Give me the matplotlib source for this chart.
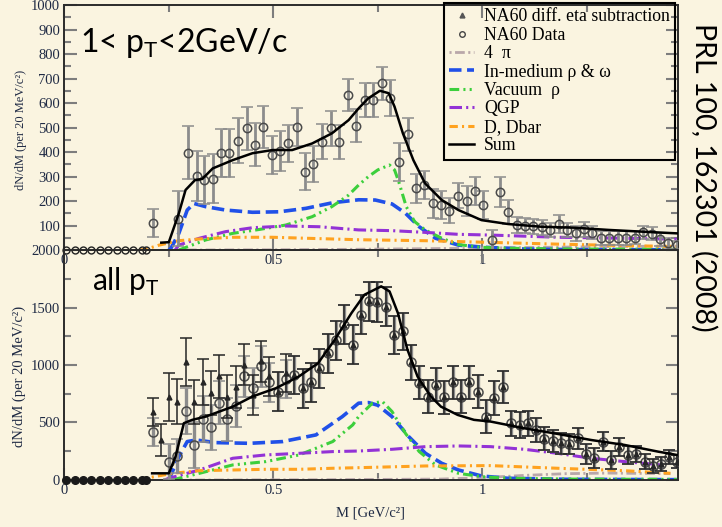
import matplotlib
matplotlib.use("Agg")
import matplotlib.pyplot as plt
from matplotlib.ticker import MultipleLocator, FuncFormatter
from matplotlib.lines import Line2D

plt.rcParams['font.family'] = ['Liberation Serif', 'DejaVu Serif']
plt.rcParams['mathtext.fontset'] = 'dejavusans'
plt.rcParams['lines.scale_dashes'] = False

BG = '#faf4e0'
TICKLAB = '#1f2a44'
C_BLUE = '#2050e8'
C_GREEN = '#3ccf3c'
C_PURPLE = '#9332d6'
C_ORANGE = '#ffa21f'
C_4PI = '#b9a7aa'

# ---------------- 1 < pT < 2 GeV/c ----------------
zero_m = [0.005, 0.025, 0.045, 0.065, 0.085, 0.105, 0.125, 0.145, 0.165, 0.185, 0.195]

hi_m = [0.213, 0.273, 0.295, 0.317, 0.335, 0.355, 0.375, 0.395, 0.416, 0.436, 0.456,
        0.476, 0.496, 0.516, 0.536, 0.556, 0.576, 0.596, 0.617, 0.637, 0.658, 0.678,
        0.698, 0.719, 0.739, 0.759, 0.779, 0.801, 0.822, 0.841, 0.861, 0.881, 0.901,
        0.921, 0.941, 0.963, 0.983, 1.002, 1.022, 1.042, 1.062, 1.082, 1.102, 1.122,
        1.142, 1.162, 1.183, 1.203, 1.223, 1.243, 1.263, 1.283, 1.304, 1.324, 1.344,
        1.365, 1.385, 1.405, 1.425, 1.445, 1.465]
hi_y = [111, 127, 397, 302, 286, 290, 397, 397, 446, 497, 429,
        503, 388, 404, 435, 503, 320, 351, 442, 497, 442, 633,
        507, 612, 612, 680, 619, 360, 472, 252, 265, 190, 184,
        160, 222, 201, 242, 184, 41, 238, 156, 102, 99, 96,
        93, 82, 106, 82, 68, 84, 71, 50, 50, 49, 49,
        50, 73, 67, 43, 27, 20]
hi_err = [56, 112, 109, 104, 97, 100, 97, 97, 92, 88, 88,
          86, 78, 82, 75, 77, 75, 73, 72, 71, 70, 66,
          68, 70, 70, 68, 74, 78, 68, 60, 58, 58, 58,
          51, 52, 61, 58, 58, 41, 61, 48, 34, 30, 30,
          30, 30, 35, 30, 30, 30, 28, 28, 28, 27, 27,
          27, 27, 25, 25, 22, 15]

hi_sum_m = [0.232, 0.25, 0.274, 0.29, 0.313, 0.33, 0.355, 0.403, 0.45, 0.498, 0.545,
            0.593, 0.64, 0.68, 0.704, 0.727, 0.755, 0.776, 0.79, 0.81, 0.835, 0.863,
            0.903, 0.943, 0.998, 1.062, 1.141, 1.221, 1.302, 1.381, 1.465]
hi_sum = [30, 32, 150, 245, 286, 290, 333, 367, 395, 408, 408,
          435, 476, 530, 578, 619, 650, 640, 585, 476, 367, 272,
          204, 163, 122, 106, 95, 91, 82, 75, 68]

hi_med_m = [0.25, 0.255, 0.274, 0.294, 0.31, 0.338, 0.386, 0.45, 0.514, 0.578, 0.642,
            0.704, 0.744, 0.784, 0.816, 0.849, 0.888, 0.943, 1.006, 1.1, 1.2, 1.3, 1.465]
hi_med = [0, 7, 68, 163, 190, 177, 163, 154, 156, 170, 193,
          205, 204, 188, 150, 95, 48, 20, 11, 4, 2, 1, 1]

hi_vac_m = [0.274, 0.338, 0.403, 0.467, 0.53, 0.593, 0.64, 0.68, 0.704, 0.727, 0.75,
            0.778, 0.79, 0.80, 0.818, 0.838, 0.863, 0.903, 0.943, 0.998, 1.062, 1.2, 1.465]
hi_vac = [0, 41, 68, 84, 102, 136, 177, 224, 265, 299, 327,
          347, 327, 279, 177, 116, 82, 48, 22, 11, 7, 4, 3]

hi_qgp_m = [0.265, 0.274, 0.323, 0.386, 0.45, 0.53, 0.61, 0.704, 0.784, 0.863, 0.943,
            1.02, 1.18, 1.34, 1.465]
hi_qgp = [0, 20, 48, 75, 91, 98, 95, 82, 79, 72, 64, 61, 52, 48, 44]

hi_dd_m = [0.18, 0.195, 0.227, 0.274, 0.323, 0.403, 0.498, 0.578, 0.704, 0.863, 1.02,
           1.18, 1.34, 1.465]
hi_dd = [0, 3, 20, 38, 45, 52, 52, 48, 42, 38, 31, 24, 18, 14]

hi_4pi_m = [0.28, 0.5, 0.7, 0.9, 1.1, 1.3, 1.465]
hi_4pi = [0, 1, 3, 6, 10, 14, 16]

# ---------------- all pT ----------------
lo_circ_m = [0.211, 0.251, 0.270, 0.291, 0.310, 0.331, 0.350, 0.371, 0.390, 0.411, 0.430,
             0.451, 0.470, 0.490, 0.510, 0.530, 0.550]
lo_circ_y = [418, 160, 210, 604, 305, 528, 459, 673, 528, 645, 900,
             798, 987, 848, 769, 877, 915]
lo_circ_err = [125, 150, 150, 200, 200, 200, 195, 190, 185, 185, 180,
               175, 175, 170, 170, 165, 165]

lo_tri_m = [0.211, 0.231, 0.251, 0.270, 0.291, 0.310, 0.331, 0.350, 0.371, 0.390, 0.411,
            0.430, 0.451, 0.470, 0.490, 0.510, 0.530, 0.550]
lo_tri_y = [590, 350, 721, 682, 1025, 680, 856, 755, 900, 726, 807,
            1002, 740, 1031, 900, 769, 929, 915]
lo_tri_err = [123, 140, 210, 195, 210, 190, 200, 190, 190, 185, 185,
              180, 175, 175, 170, 170, 165, 165]

# above ~0.56 GeV both data sets coincide
lo_m = [0.570, 0.590, 0.610, 0.630, 0.650, 0.670, 0.690, 0.710, 0.730, 0.749, 0.769,
        0.789, 0.810, 0.829, 0.849, 0.869, 0.889, 0.909, 0.929, 0.949, 0.969, 0.989,
        1.009, 1.029, 1.049, 1.069, 1.089, 1.109, 1.128, 1.148, 1.168, 1.188, 1.208,
        1.228, 1.248, 1.268, 1.288, 1.308, 1.328, 1.348, 1.368, 1.388, 1.408, 1.428,
        1.447, 1.465]
lo_y = [798, 848, 973, 1103, 1214, 1350, 1176, 1437, 1553, 1548, 1507,
        1263, 1292, 1022, 845, 726, 828, 720, 848, 726, 848, 769,
        551, 712, 807, 494, 479, 494, 436, 357, 340, 319, 314,
        363, 226, 189, 334, 174, 285, 218, 226, 160, 122, 139,
        203, 160]
lo_err = [170, 170, 170, 170, 170, 170, 170, 170, 170, 170, 170,
          165, 160, 150, 145, 145, 145, 145, 145, 145, 145, 145,
          145, 145, 140, 110, 110, 110, 105, 100, 95, 90, 90,
          90, 85, 85, 85, 80, 80, 75, 70, 65, 60, 60,
          60, 55]

lo_sum_m = [0.21, 0.25, 0.266, 0.286, 0.306, 0.338, 0.403, 0.45, 0.506, 0.561, 0.607,
            0.647, 0.687, 0.718, 0.758, 0.778, 0.798, 0.821, 0.845, 0.877, 0.901, 0.941,
            0.98, 1.02, 1.1, 1.18, 1.26, 1.34, 1.42, 1.465]
lo_sum = [58, 58, 203, 494, 523, 551, 638, 726, 798, 900, 1016,
          1220, 1452, 1611, 1684, 1640, 1452, 1132, 900, 726, 638, 566,
          523, 508, 450, 401, 348, 305, 247, 218]

lo_med_m = [0.25, 0.274, 0.294, 0.315, 0.363, 0.443, 0.522, 0.602, 0.665, 0.704, 0.728,
            0.75, 0.784, 0.824, 0.864, 0.903, 0.943, 0.998, 1.06, 1.2, 1.465]
lo_med = [0, 203, 334, 348, 325, 319, 334, 392, 551, 668, 673,
          650, 551, 377, 232, 145, 87, 35, 15, 6, 3]

lo_vac_m = [0.26, 0.274, 0.323, 0.403, 0.482, 0.562, 0.642, 0.69, 0.704, 0.737, 0.761,
            0.784, 0.816, 0.849, 0.888, 0.943, 0.998, 1.06, 1.2, 1.465]
lo_vac = [0, 15, 58, 131, 160, 218, 334, 479, 551, 668, 682,
          595, 406, 247, 131, 58, 29, 15, 8, 5]

lo_qgp_m = [0.24, 0.25, 0.323, 0.403, 0.482, 0.562, 0.642, 0.704, 0.784, 0.864, 0.943,
            1.02, 1.1, 1.18, 1.26, 1.34, 1.43]
lo_qgp = [0, 15, 87, 189, 218, 232, 247, 252, 267, 290, 296,
          290, 267, 232, 189, 160, 131]

lo_dd_m = [0.18, 0.195, 0.259, 0.323, 0.403, 0.482, 0.562, 0.642, 0.704, 0.864, 1.02,
           1.18, 1.34, 1.45]
lo_dd = [0, 15, 58, 81, 87, 93, 93, 102, 107, 122, 125, 102, 81, 58]

lo_4pi_m = [0.3, 0.6, 0.9, 1.0, 1.1, 1.2, 1.3, 1.45]
lo_4pi = [0, 2, 8, 20, 40, 55, 60, 55]


def draw_curves(ax, sets):
    (m4, y4), (mm, ym), (mv, yv), (mq, yq), (md, yd), (ms, ysum) = sets
    h = []
    h += ax.plot(m4, y4, color=C_4PI, lw=2.0, dashes=(1.5, 2.5, 7, 2.5), zorder=2)
    h += ax.plot(mm, ym, color=C_BLUE, lw=2.6, dashes=(9, 4), zorder=2)
    h += ax.plot(mv, yv, color=C_GREEN, lw=2.2, dashes=(7, 3, 1.5, 3, 1.5, 3), zorder=2)
    h += ax.plot(mq, yq, color=C_PURPLE, lw=2.2, dashes=(9, 3, 1.5, 3), zorder=2)
    h += ax.plot(md, yd, color=C_ORANGE, lw=2.2, dashes=(6, 3, 1.5, 3), zorder=2)
    h += ax.plot(ms, ysum, color='black', lw=1.8, zorder=4)
    return h


def style_axis(ax, ymax, ymaj, ymin):
    ax.set_facecolor('none')
    ax.set_xlim(0, 1.467)
    ax.set_ylim(0, ymax)
    ax.xaxis.set_major_locator(MultipleLocator(0.5))
    ax.xaxis.set_minor_locator(MultipleLocator(0.25))
    ax.yaxis.set_major_locator(MultipleLocator(ymaj))
    ax.yaxis.set_minor_locator(MultipleLocator(ymin))
    ax.xaxis.set_major_formatter(FuncFormatter(lambda v, p: f'{v:g}'))
    ax.tick_params(which='both', direction='in', top=True, right=True,
                   color='#7d7d7d', labelcolor=TICKLAB, labelsize=10.5, width=1.5)
    ax.tick_params(which='major', length=9, pad=3)
    ax.tick_params(which='minor', length=5)
    for s in ax.spines.values():
        s.set_color('#2b2b2b')
        s.set_linewidth(1.4)


fig = plt.figure(figsize=(7.22, 5.27), dpi=100, facecolor=BG)
ax1 = fig.add_axes([0.0891, 0.5256, 0.8493, 0.4649])
ax2 = fig.add_axes([0.0891, 0.0892, 0.8493, 0.4364])

# upper panel
style_axis(ax1, 1000, 100, 50)
ax1.yaxis.set_major_formatter(FuncFormatter(lambda v, p: '' if v == 0 else f'{v:g}'))
curves = draw_curves(ax1, [(hi_4pi_m, hi_4pi), (hi_med_m, hi_med), (hi_vac_m, hi_vac),
                           (hi_qgp_m, hi_qgp), (hi_dd_m, hi_dd), (hi_sum_m, hi_sum)])
ax1.errorbar(hi_m, hi_y, yerr=hi_err, fmt='o', ms=6, mfc='none', mec='#4a4a4a', mew=1.1,
             ecolor='#8c8c8c', elinewidth=2.0, capsize=4.5, capthick=2.0, zorder=3)
ax1.plot(zero_m, [0] * len(zero_m), 'o', ms=5, mfc='none', mec='#222222', mew=1.0,
         clip_on=False, zorder=5)

# lower panel
style_axis(ax2, 2000, 500, 250)
ax2.yaxis.set_major_formatter(FuncFormatter(lambda v, p: f'{v:g}'))
draw_curves(ax2, [(lo_4pi_m, lo_4pi), (lo_med_m, lo_med), (lo_vac_m, lo_vac),
                  (lo_qgp_m, lo_qgp), (lo_dd_m, lo_dd), (lo_sum_m, lo_sum)])
ax2.errorbar(lo_circ_m + lo_m, lo_circ_y + lo_y, yerr=lo_circ_err + lo_err, fmt='o', ms=6.5,
             mfc='none', mec='#4a4a4a', mew=1.1, ecolor='#8c8c8c', elinewidth=2.4,
             capsize=4.5, capthick=2.2, zorder=3)
ax2.errorbar(lo_tri_m + lo_m, lo_tri_y + lo_y, yerr=lo_tri_err + lo_err, fmt='^', ms=3.5,
             color='#262626', ecolor='#262626', elinewidth=1.1, capsize=4.5, capthick=1.1,
             zorder=3.5)
ax2.plot(zero_m, [0] * len(zero_m), 'o', ms=5.5, color='#1a1a1a', clip_on=False, zorder=5)

# legend
handles = [Line2D([], [], ls='none', marker='^', ms=3.5, color='#555555'),
           Line2D([], [], ls='none', marker='o', ms=4, mfc='none', mec='#444444')] + curves
labels = ['NA60 diff. eta subtraction', 'NA60 Data', '4  π', 'In-medium ρ & ω',
          'Vacuum  ρ', 'QGP', 'D, Dbar', 'Sum']
leg = ax1.legend(handles, labels, loc='upper right', bbox_to_anchor=(0.996, 1.008),
                 borderaxespad=0, fontsize=12.8, labelspacing=0.08, handlelength=1.4,
                 handletextpad=0.55, borderpad=0.3, fancybox=False, facecolor='none',
                 edgecolor='black', framealpha=1)
leg.get_frame().set_linewidth(1.5)

# axis titles
fig.text(21 / 722, 1 - 130 / 527, 'dN/dM (per 20 MeV/c²)', rotation=90, ha='center',
         va='center', fontsize=9, color=TICKLAB)
fig.text(19 / 722, 1 - 376 / 527, 'dN/dM (per 20 MeV/c²)', rotation=90, ha='center',
         va='center', fontsize=10.5, color=TICKLAB)
fig.text(370 / 722, 1 - 513 / 527, 'M [GeV/c²]', ha='center', va='center',
         fontsize=10.5, color=TICKLAB)

# panel captions
sans = ['Lato', 'DejaVu Sans']
fig.text(80 / 722, 1 - 52 / 527, r'1< p$_\mathregular{T}$<2GeV/c', family=sans,
         fontsize=23, va='baseline', ha='left', color='black')
fig.text(92 / 722, 1 - 291 / 527, r'all p$_\mathregular{T}$', family=sans,
         fontsize=21.5, va='baseline', ha='left', color='black')
fig.text(704 / 722, 1 - 177 / 527, 'PRL 100, 162301 (2008)', family=sans, rotation=-90,
         fontsize=20.5, ha='center', va='center', color='black')

fig.savefig('out.png', dpi=100, facecolor=BG)
